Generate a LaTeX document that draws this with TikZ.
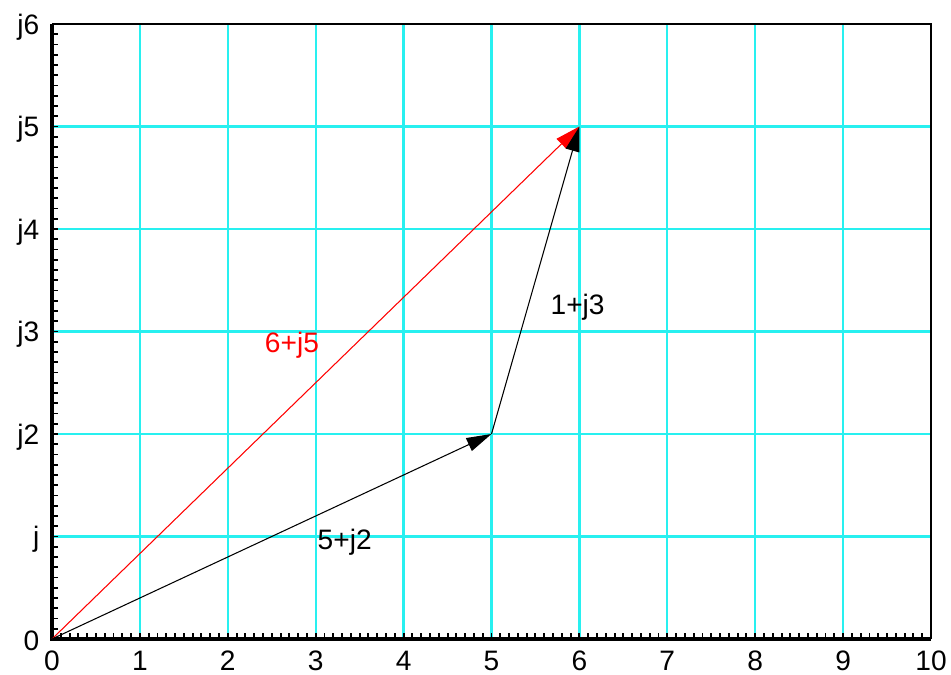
\documentclass[tikz,border=0pt]{standalone}
\usepackage{fontspec}
\setmainfont{Liberation Sans}
\usetikzlibrary{arrows.meta}
\definecolor{gridcyan}{RGB}{40,240,240}
\definecolor{vecred}{RGB}{255,0,0}
\begin{document}
\begin{tikzpicture}[x=1.758cm,y=2.05cm,
  font=\fontsize{16}{19}\selectfont,
  gridline/.style={draw=gridcyan, line width=1.3pt},
  vec/.style={line width=0.6pt, -{Triangle[length=0.5cm,width=0.28cm]}},
  ylab/.style={anchor=east, inner sep=0pt},
  xlab/.style={anchor=center, inner sep=0pt},
  tickline/.style={line width=1.1pt}]
\useasboundingbox (-0.5916,-0.3512) rectangle (10.2275,6.234);
% grid
\foreach \i in {1,...,9} \draw[gridline] (\i,0) -- (\i,6);
\foreach \j in {1,...,5} \draw[gridline] (0,\j) -- (10,\j);
% minor ticks
\foreach \k in {1,...,99} \draw[tickline] (\k/10,0) -- ++(0,0.06);
\foreach \k in {1,...,59} \draw[tickline] (0,\k/10) -- ++(0.07,0);
% frame
\draw[line width=1.2pt] (0,6) -- (10,6) -- (10,0);
\draw[line width=1.8pt] (0,6) -- (0,0) -- (10,0);
% axis labels
\foreach \i in {0,...,10} \node[xlab] (x\i) at (\i,-0.21) {\i};
\node[ylab] (y0) at (-0.14,-0.02) {0};
\node[ylab] (y1) at (-0.14,0.97) {j};
\foreach \j in {2,...,6} \node[ylab] (y\j) at (-0.14,\j-0.03) {j\j};
% vectors
\coordinate (O) at (0,0);
\coordinate (A) at (5,2);
\coordinate (B) at (6,5);
\draw[vec, vecred] (O) -- (B);
\draw[vec] (O) -- (A);
\draw[vec] (A) -- (B);
\node[vecred] (l1) at (2.73,2.87) {6+j5};
\node (l2) at (5.98,3.24) {1+j3};
\node (l3) at (3.33,0.94) {5+j2};
\end{tikzpicture}
\end{document}
